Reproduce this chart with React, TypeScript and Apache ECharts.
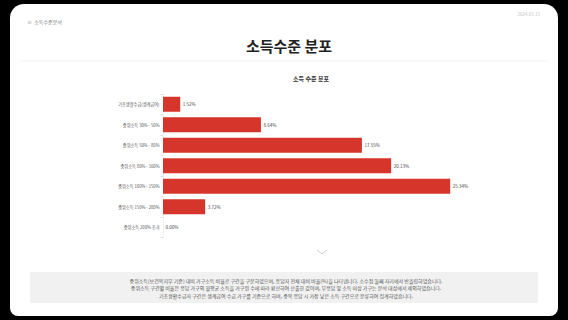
import React, { useEffect, useRef } from "react";
import * as echarts from "echarts";

const categories = [
  "기초생활수급(생계급여)",
  "중위소득 30% - 50%",
  "중위소득 50% - 80%",
  "중위소득 80% - 100%",
  "중위소득 100% - 150%",
  "중위소득 150% - 200%",
  "중위소득 200% 초과",
];
const shares = [1.52, 8.64, 17.55, 20.13, 25.34, 3.72, 0];

const pageTitle = "소득수준 분포";
const chartTitle = "소득 수준 분포";
const headerLabel = "≡  소득수준분석";
const dateLabel = "2024.03.15";
const notes = [
  "중위소득(보건복지부 기준) 대비 가구소득 비율로 구간을 구분하였으며, 응답자 전체 대비 비율(%)을 나타냅니다. 소수점 둘째 자리에서 반올림하였습니다.",
  "중위소득 구간별 비율은 응답 가구의 월평균 소득을 가구원 수에 따라 환산하여 산출한 값이며, 무응답 및 소득 미상 가구는 분석 대상에서 제외하였습니다.",
  "기초생활수급자 구간은 생계급여 수급 가구를 기준으로 하며, 중복 응답 시 가장 낮은 소득 구간으로 분류하여 집계하였습니다.",
];

export default function App() {
  const ref = useRef<HTMLDivElement>(null);
  useEffect(() => {
    const chart = echarts.init(ref.current!, null, { renderer: "svg" });
    const font = "'Noto Sans CJK KR', 'Noto Sans', sans-serif";
    chart.setOption({
      animation: false,
      backgroundColor: "#000",
      textStyle: { fontFamily: font },
      grid: { left: 163, top: 94, width: 340, height: 143.5 },
      xAxis: {
        type: "value",
        min: 0,
        max: 30,
        show: false,
      },
      yAxis: {
        type: "category",
        data: categories,
        inverse: true,
        axisLine: { show: true, lineStyle: { color: "#e2e2e2", width: 0.5 } },
        axisTick: { show: true, length: 2.5, lineStyle: { color: "#bbb", width: 0.5 } },
        axisLabel: { fontSize: 4.2, color: "#555", margin: 3.5, fontFamily: font },
      },
      series: [
        {
          type: "bar",
          data: shares,
          barWidth: 15,
          itemStyle: { color: "#d5352b" },
          label: {
            show: true,
            position: "right",
            distance: 2.5,
            fontSize: 4.5,
            color: "#444",
            fontFamily: font,
            formatter: (p: any) => p.value.toFixed(2) + "%",
          },
        },
      ],
      graphic: [
        {
          type: "rect",
          z: -10,
          shape: { x: 10, y: 4, width: 548, height: 312, r: [14, 14, 8, 8] },
          style: { fill: "#fff" },
        },
        {
          type: "text",
          x: 27,
          y: 21,
          style: { text: headerLabel, fontSize: 5, fill: "#777", fontFamily: font, textVerticalAlign: "middle" },
        },
        {
          type: "text",
          x: 540,
          y: 14,
          style: { text: dateLabel, fontSize: 4.5, fill: "#c4c4c4", fontFamily: font, textAlign: "right", textVerticalAlign: "middle" },
        },
        {
          type: "text",
          x: 289,
          y: 45,
          style: { text: pageTitle, fontSize: 15, fontWeight: "bold", fill: "#222", fontFamily: font, textAlign: "center", textVerticalAlign: "middle" },
        },
        {
          type: "line",
          shape: { x1: 20, y1: 61, x2: 548, y2: 61 },
          style: { stroke: "#f0f0f0", lineWidth: 0.8 },
        },
        {
          type: "text",
          x: 311,
          y: 78,
          style: { text: chartTitle, fontSize: 6, fontWeight: "bold", fill: "#333", fontFamily: font, textAlign: "center", textVerticalAlign: "middle" },
        },
        {
          type: "polyline",
          shape: { points: [[317, 250], [322, 254], [327, 250]] },
          style: { stroke: "#ccc", lineWidth: 1, fill: "none" },
        },
        {
          type: "rect",
          shape: { x: 30, y: 272, width: 508, height: 31 },
          style: { fill: "#f1f1f1" },
        },
        ...notes.map((t, i) => ({
          type: "text",
          x: 286,
          y: 280 + i * 7.5,
          style: { text: t, fontSize: 5, fill: "#555", fontFamily: font, textAlign: "center", textVerticalAlign: "middle" },
        })),
      ],
    });
    return () => chart.dispose();
  }, []);
  return (
    <div
      ref={ref}
      style={{ position: "fixed", left: 0, top: 0, width: 568, height: 320 }}
    />
  );
}
